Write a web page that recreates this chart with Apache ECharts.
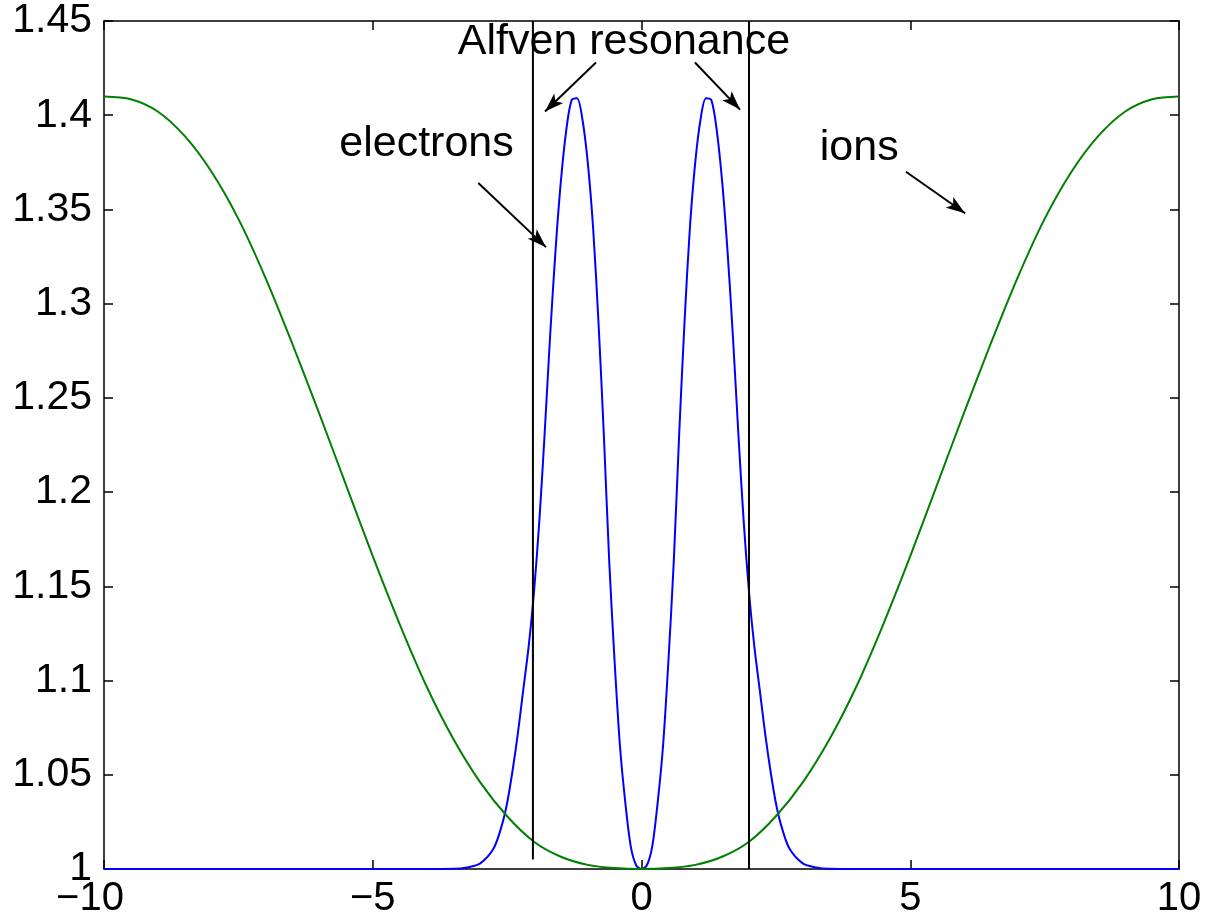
<!DOCTYPE html>
<html>
<head>
<meta charset="utf-8">
<script src="https://cdn.jsdelivr.net/npm/echarts@6/dist/echarts.min.js"></script>
<style>
html,body{margin:0;padding:0;background:#fff;}
#chart{width:1209px;height:923px;}
</style>
</head>
<body>
<div id="chart"></div>
<script>
// ---- tick labels ----
const xTicks = [-10, -5, 0, 5, 10];
const xTickLabels = ['\u221210', '\u22125', '0', '5', '10'];
const yTicks = [1, 1.05, 1.1, 1.15, 1.2, 1.25, 1.3, 1.35, 1.4, 1.45];
const yTickLabels = ['1', '1.05', '1.1', '1.15', '1.2', '1.25', '1.3', '1.35', '1.4', '1.45'];

// ---- electrons (blue) ----
const electronsX = [-10, -4, -3.5, -3.25, -3, -2.75, -2.6, -2.5, -2.4, -2.3, -2.2, -2.1, -2, -1.9, -1.8, -1.7, -1.6, -1.5, -1.4, -1.3, -1.2, -1.1, -1, -0.9, -0.8, -0.7, -0.6, -0.5, -0.4, -0.3, -0.2, -0.1, 0,
  0.1, 0.2, 0.3, 0.4, 0.5, 0.6, 0.7, 0.8, 0.9, 1, 1.1, 1.2, 1.3, 1.4, 1.5, 1.6, 1.7, 1.8, 1.9, 2, 2.1, 2.2, 2.3, 2.4, 2.5, 2.6, 2.75, 3, 3.25, 3.5, 4, 10];
const electronsY = [1, 1, 1.0001, 1.0008, 1.003, 1.011, 1.023, 1.035, 1.052, 1.072, 1.095, 1.118, 1.147, 1.185, 1.232, 1.283, 1.328, 1.365, 1.392, 1.408, 1.409, 1.398, 1.375, 1.34, 1.29, 1.23, 1.163, 1.11, 1.065, 1.035, 1.012, 1.002, 1,
  1.002, 1.012, 1.035, 1.065, 1.11, 1.163, 1.23, 1.29, 1.34, 1.375, 1.398, 1.409, 1.408, 1.392, 1.365, 1.328, 1.283, 1.232, 1.185, 1.147, 1.118, 1.095, 1.072, 1.052, 1.035, 1.023, 1.011, 1.003, 1.0008, 1.0001, 1, 1];

// ---- ions (green) ----
const ionsX = [-10, -9.5, -9, -8.5, -8, -7.5, -7, -6.5, -6, -5.5, -5, -4.5, -4, -3.5, -3, -2.5, -2, -1.5, -1, -0.5, 0,
  0.5, 1, 1.5, 2, 2.5, 3, 3.5, 4, 4.5, 5, 5.5, 6, 6.5, 7, 7.5, 8, 8.5, 9, 9.5, 10];
const ionsY = [1.41, 1.4085, 1.402, 1.389, 1.37, 1.345, 1.314, 1.279, 1.242, 1.204, 1.166, 1.13, 1.097, 1.069, 1.046, 1.028, 1.0145, 1.0065, 1.0022, 1.0005, 1,
  1.0005, 1.0022, 1.0065, 1.0145, 1.028, 1.046, 1.069, 1.097, 1.13, 1.166, 1.204, 1.242, 1.279, 1.314, 1.345, 1.37, 1.389, 1.402, 1.4085, 1.41];

// ---- Alfven resonance lines ----
const resLeftX = [-2.02, -2.02];
const resLeftY = [1.005, 1.45];
const resRightX = [2.0, 2.0];
const resRightY = [1.0, 1.45];

// ---- annotations (text centre in data coords) ----
const annoText = ['Alfven resonance', 'electrons', 'ions'];
const annoX = [-0.326, -4.0, 4.05];
const annoY = [1.4388, 1.3849, 1.3826];

// arrows
const arrowFromX = [-0.847, 0.995, -3.036, 4.92];
const arrowFromY = [1.428, 1.428, 1.364, 1.370];
const arrowToX = [-1.795, 1.833, -1.777, 6.02];
const arrowToY = [1.402, 1.403, 1.330, 1.348];

const zip = (xs, ys) => xs.map((x, i) => [x, ys[i]]);

const FONT = 'Liberation Sans, Arial, Helvetica, sans-serif';
const chart = echarts.init(document.getElementById('chart'), null, {renderer: 'canvas'});

const axisBase = {
  type: 'value',
  axisLine: {show: true, onZero: false, lineStyle: {color: '#000', width: 1.5}},
  axisTick: {show: true, inside: true, length: 9, lineStyle: {color: '#000', width: 1.5}},
  splitLine: {show: false}
};

const option = {
  animation: false,
  backgroundColor: '#fff',
  grid: {left: 104, right: 30, top: 21, bottom: 54, containLabel: false},
  xAxis: [
    Object.assign({}, axisBase, {
      position: 'bottom', min: -10, max: 10, interval: 5,
      axisLabel: {show: true, color: '#000', fontSize: 40, fontFamily: FONT, margin: 10,
        formatter: v => {
          const i = xTicks.findIndex(t => Math.abs(t - v) < 1e-9);
          if (i < 0) return '';
          return i === 0 ? '{first|' + xTickLabels[i] + '}' : xTickLabels[i];
        },
        rich: {first: {color: '#000', fontSize: 40, fontFamily: FONT, padding: [0, 28, 0, 0]}}
      }
    }),
    Object.assign({}, axisBase, {
      position: 'top', min: -10, max: 10, interval: 5,
      axisLabel: {show: false}
    })
  ],
  yAxis: [
    Object.assign({}, axisBase, {
      position: 'left', min: 1, max: 1.45, interval: 0.05,
      axisLabel: {show: true, color: '#000', fontSize: 41, fontFamily: FONT, margin: 12,
        formatter: v => { const i = yTicks.findIndex(t => Math.abs(t - v) < 1e-9); return i >= 0 ? yTickLabels[i] : ''; }}
    }),
    Object.assign({}, axisBase, {
      position: 'right', min: 1, max: 1.45, interval: 0.05,
      axisLabel: {show: false}
    })
  ],
  series: [
    {
      name: 'electrons', type: 'line', xAxisIndex: 0, yAxisIndex: 0,
      data: zip(electronsX, electronsY), showSymbol: false, smooth: 0.3,
      lineStyle: {color: '#0000ff', width: 2}, z: 3
    },
    {
      name: 'ions', type: 'line', xAxisIndex: 0, yAxisIndex: 0,
      data: zip(ionsX, ionsY), showSymbol: false, smooth: 0.3,
      lineStyle: {color: '#008000', width: 2}, z: 4
    },
    {
      name: 'resL', type: 'line', data: zip(resLeftX, resLeftY), showSymbol: false,
      lineStyle: {color: '#000', width: 2}, z: 5
    },
    {
      name: 'resR', type: 'line', data: zip(resRightX, resRightY), showSymbol: false,
      lineStyle: {color: '#000', width: 2}, z: 5,
      markLine: {
        silent: true, animation: false,
        symbol: ['none', 'path://M5,0 L10,17 L5,13 L0,17 Z'], symbolSize: [13, 19],
        symbolOffset: [0, [0, 9.5]],
        lineStyle: {color: '#000', width: 2, type: 'solid'},
        itemStyle: {color: '#000'},
        label: {show: false},
        data: arrowFromX.map((x, i) => [{coord: [x, arrowFromY[i]]}, {coord: [arrowToX[i], arrowToY[i]]}])
      }
    }
  ]
};
chart.setOption(option);

// annotation texts positioned through the grid's own coordinate conversion
const graphics = annoText.map((t, i) => {
  const p = chart.convertToPixel({gridIndex: 0}, [annoX[i], annoY[i]]);
  return {
    type: 'text', x: p[0], y: p[1], z: 100,
    style: {text: t, fill: '#000', font: '43px ' + FONT, align: 'center', verticalAlign: 'middle'}
  };
});
chart.setOption({graphic: graphics});
</script>
</body>
</html>
